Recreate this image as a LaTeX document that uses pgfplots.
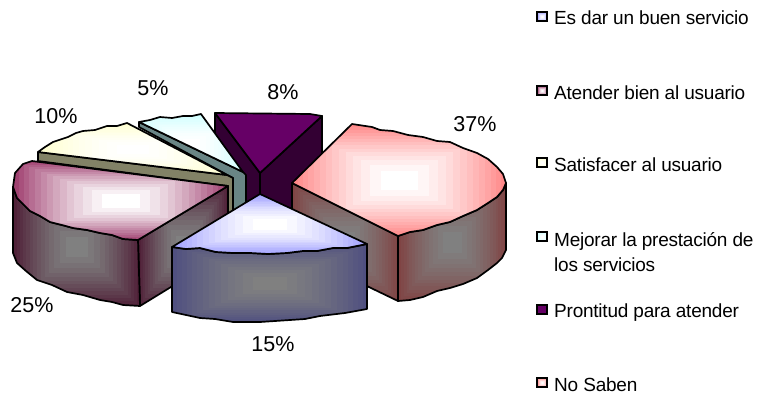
\documentclass[border=0pt]{standalone}
\usepackage{pgfplots}
\pgfplotsset{compat=1.18}
\usepackage{fontspec}
\setmainfont{Liberation Sans}
\newfontfamily\legfont[LetterSpace=-1.2]{Liberation Sans}
\usetikzlibrary{shadings}

% Banded rectangular gradient: #2-#4 at the centre, #5-#7 at the edge of the bounding box.
% TikZ fits a path's bounding box to the inner 25bp..75bp of the shading square.
\newcommand{\rectshade}[8]{%
  \pgfdeclarefunctionalshading{#1}{\pgfpoint{0bp}{0bp}}{\pgfpoint{100bp}{100bp}}{}{%
    50 sub abs exch 50 sub abs 2 copy lt {exch} if pop
    25 div dup sqrt mul 14 mul floor 14 div
    dup #5 #2 sub mul #2 add exch
    dup #6 #3 sub mul #3 add exch
    #7 #4 sub mul #4 add
  }%
}
\rectshade{topblue}{1}{1}{1}{0.60}{0.60}{1.00}{}
\rectshade{topmaroon}{1}{1}{1}{0.60}{0.20}{0.40}{}
\rectshade{topyellow}{1}{1}{1}{1.00}{1.00}{0.80}{}
\rectshade{topcyan}{1}{1}{1}{0.80}{1.00}{1.00}{}
\rectshade{toppink}{1}{1}{1}{1.00}{0.50}{0.50}{}
\rectshade{sideblue}{0.5}{0.5}{0.5}{0.30}{0.30}{0.50}{}
\rectshade{sidemaroon}{0.5}{0.5}{0.5}{0.30}{0.10}{0.20}{}
\rectshade{sidepink}{0.5}{0.5}{0.5}{0.50}{0.25}{0.25}{}

\pgfplotsset{
  slice/.style={draw=black, line width=1.7pt, line join=round, mark=none, forget plot},
  swatch/.style={draw=black, line width=1.5pt, mark=none, forget plot},
}
\tikzset{
  pct/.style={font=\fontsize{21.5}{24}\selectfont, inner sep=0pt, anchor=center},
  leg/.style={font=\legfont\fontsize{19}{24.5}\selectfont, inner sep=0pt, anchor=west, align=left},
}

\begin{document}
\begin{tikzpicture}[x=1pt,y=1pt]
\useasboundingbox (0,0) rectangle (763pt,396pt);
\begin{axis}[
  at={(0,0)}, anchor=south west,
  scale only axis, width=763pt, height=396pt,
  xmin=0, xmax=763, ymin=0, ymax=396, y dir=reverse,
  hide axis, clip=false,
]
% Prontitud para atender (8%)
\addplot[slice, fill={rgb,1:red,0.2;green,0;blue,0.2}] coordinates {(215,113)(260,173)(260,200)(246,205)(215,140)} -- cycle;
\addplot[slice, fill={rgb,1:red,0.2;green,0;blue,0.2}] coordinates {(322,116)(260,173)(260,200)(292,215)(322,200)} -- cycle;
\addplot[slice, fill={rgb,1:red,0.4;green,0;blue,0.4}] coordinates {(215,113)(310,114)(322,116)(260,173)} -- cycle;

% Mejorar la prestacion de los servicios (5%)
\addplot[slice, fill={rgb,1:red,0.41;green,0.52;blue,0.52}] coordinates {(139,122)(139,127)(233,178)(233,218)(246,210)(246,175)(243,172)} -- cycle;
\addplot[slice, shade, shading=topcyan] coordinates {(139,122)(150,120)(160,117)(172,118)(183,116)(192,116)(201,114)(243,172)} -- cycle;

% Satisfacer al usuario (10%)
\addplot[slice, fill={rgb,1:red,0.51;green,0.51;blue,0.40}] coordinates {(38,152)(227,175)(233,178)(233,220)(228,220)(228,186)(38,161)} -- cycle;
\addplot[slice, shade, shading=topyellow] coordinates {(38,152)(45,147)(53,142)(68,137)(76,133)(83,131)(95,130)(107,126)(117,126)(127,123)(227,175)} -- cycle;

% Atender bien al usuario (25%)
\addplot[slice, shade, shading=sidemaroon] coordinates {(138,240)(228,186)(228,252)(140,306)} -- cycle;
\addplot[slice, shade, shading=sidemaroon] coordinates {(13,187)(17,198)(30,211)(40,216)(50,222)(62,225)(73,228)(87,230)(100,233)(112,235)(123,239)(138,240)(140,306)(123,305)(112,302)(100,300)(83,295)(67,292)(52,285)(37,280)(26,271)(17,263)(13,253)} -- cycle;
\addplot[slice, shade, shading=topmaroon] coordinates {(32,161)(23,164)(15,173)(13,187)(17,198)(30,211)(40,216)(50,222)(62,225)(73,228)(87,230)(100,233)(112,235)(123,239)(138,240)(228,186)} -- cycle;

% No Saben (37%)
\addplot[slice, shade, shading=sidepink] coordinates {(292,183)(398,236)(398,301)(292,250)} -- cycle;
\addplot[slice, shade, shading=sidepink] coordinates {(506,183)(503,190)(497,197)(488,203)(477,210)(463,216)(450,222)(437,225)(423,230)(410,232)(398,236)(398,301)(410,300)(423,297)(437,291)(450,288)(463,284)(477,278)(488,270)(497,263)(502,258)(506,250)} -- cycle;
\addplot[slice, shade, shading=toppink] coordinates {(352,124)(372,127)(380,130)(393,131)(408,135)(423,137)(437,141)(450,142)(463,148)(477,153)(488,159)(497,167)(503,174)(506,183)(503,190)(497,197)(488,203)(477,210)(463,216)(450,222)(437,225)(423,230)(410,232)(398,236)(292,183)} -- cycle;

% Es dar un buen servicio (15%)
\addplot[slice, shade, shading=sideblue] coordinates {(172,247)(186,249)(200,248)(216,252)(233,253)(250,253)(268,254)(287,253)(303,251)(317,251)(333,248)(347,248)(367,244)(367,309)(345,313)(320,316)(305,319)(290,320)(260,322)(233,322)(215,319)(200,318)(172,312)} -- cycle;
\addplot[slice, shade, shading=topblue] coordinates {(260,194)(367,244)(347,248)(333,248)(317,251)(303,251)(287,253)(268,254)(250,253)(233,253)(216,252)(200,248)(186,249)(172,247)} -- cycle;

% Legend swatches
\addplot[swatch, shade, shading=topblue]   coordinates {(537,12)(547,12)(547,21)(537,21)} -- cycle;
\addplot[swatch, shade, shading=topmaroon] coordinates {(537,86)(547,86)(547,95)(537,95)} -- cycle;
\addplot[swatch, shade, shading=topyellow] coordinates {(537,158)(547,158)(547,167)(537,167)} -- cycle;
\addplot[swatch, shade, shading=topcyan]   coordinates {(537,232)(547,232)(547,241)(537,241)} -- cycle;
\addplot[swatch, fill={rgb,1:red,0.4;green,0;blue,0.4}] coordinates {(537,305)(547,305)(547,314)(537,314)} -- cycle;
\addplot[swatch, shade, shading=toppink]   coordinates {(537,378)(547,378)(547,387)(537,387)} -- cycle;

% Percentages
\node[pct] at (axis cs:475,124) {37\%};
\node[pct] at (axis cs:283,92) {8\%};
\node[pct] at (axis cs:153,88) {5\%};
\node[pct] at (axis cs:56,116) {10\%};
\node[pct] at (axis cs:32,305) {25\%};
\node[pct] at (axis cs:273,344) {15\%};

% Legend text
\node[leg] at (axis cs:554,18) {Es dar un buen servicio};
\node[leg] at (axis cs:554,93) {Atender bien al usuario};
\node[leg] at (axis cs:554,165) {Satisfacer al usuario};
\node[leg] at (axis cs:554,252) {Mejorar la prestación de\\los servicios};
\node[leg] at (axis cs:554,313) {Prontitud para atender};
\node[leg] at (axis cs:554,385) {No Saben};
\end{axis}
\end{tikzpicture}
\end{document}
